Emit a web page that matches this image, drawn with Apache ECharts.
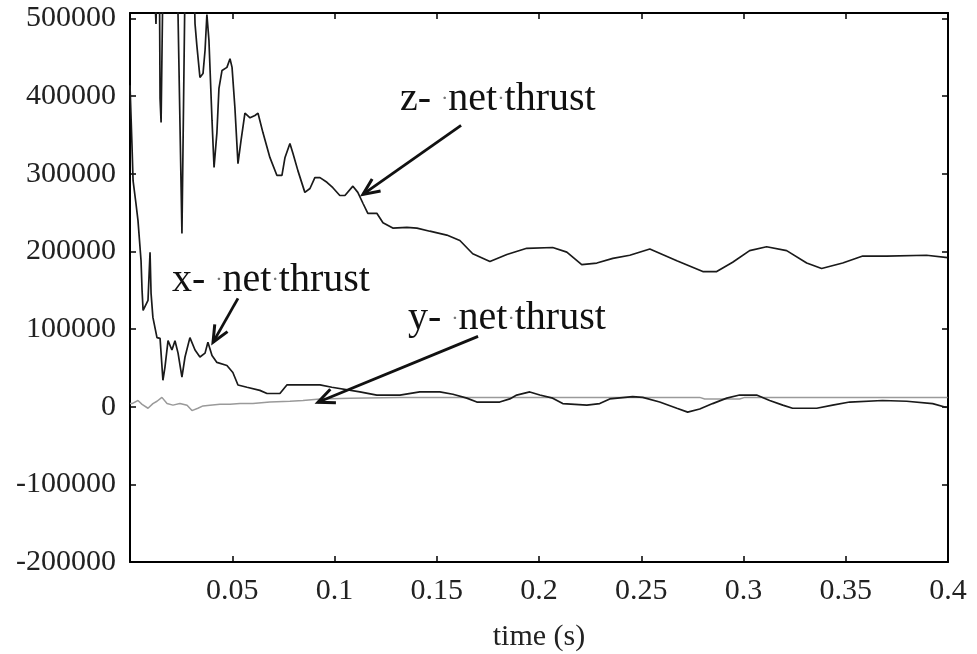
<!DOCTYPE html>
<html><head><meta charset="utf-8">
<script src="https://cdn.jsdelivr.net/npm/echarts@6/dist/echarts.min.js"></script>
<style>html,body{margin:0;padding:0;background:#fff}#c{width:977px;height:654px}</style>
</head><body><div id="c"></div>
<script>
// ---- data (time in s, thrust in N) ----
const zTime = [0,0.0098,0.0127,0.0142,0.0147,0.0152,0.0166,0.0225,0.0254,0.0274,0.0308,0.0318,0.0327,0.0342,0.0357,0.0367,0.0376,0.0386,0.0401,0.0411,0.0425,0.0435,0.0450,0.0474,0.0489,0.0499,0.0513,0.0528,0.0543,0.0562,0.0587,0.0611,0.0626,0.0650,0.0684,0.0718,0.0743,0.0758,0.0782,0.0797,0.0821,0.0855,0.0880,0.0904,0.0929,0.0963,0.0992,0.1026,0.1051,0.1090,0.1114,0.1139,0.1163,0.1207,0.1237,0.1285,0.1354,0.1403,0.1466,0.1549,0.1613,0.1676,0.1760,0.1843,0.1940,0.2067,0.2136,0.2209,0.2283,0.2361,0.2444,0.2542,0.2674,0.2801,0.2869,0.2947,0.3030,0.3113,0.3211,0.3309,0.3382,0.3485,0.3583,0.3700,0.3895,0.3998];
const zThrust = [900000,700000,493000,650000,397000,366000,650000,650000,223000,650000,600000,493000,465000,424000,429000,459000,505000,472000,369000,308000,353000,410000,433000,437000,448000,437000,385000,313000,343000,378000,372000,375000,378000,353000,321000,298000,298000,321000,339000,326000,304000,276000,281000,295000,295000,289000,282000,272000,272000,284000,276000,262000,249000,249000,237000,230000,231000,230000,226000,221000,214000,197000,187000,196000,204000,205000,199000,183000,185000,191000,195000,203000,188000,174000,174000,186000,201000,206000,201000,185000,178000,185000,194000,194000,195000,192000];

const xTime = [0,0.0010,0.0015,0.0029,0.0039,0.0054,0.0059,0.0064,0.0073,0.0088,0.0098,0.0103,0.0112,0.0132,0.0147,0.0161,0.0171,0.0186,0.0205,0.0220,0.0235,0.0254,0.0269,0.0293,0.0318,0.0342,0.0367,0.0381,0.0401,0.0425,0.0474,0.0503,0.0528,0.0572,0.0635,0.0670,0.0733,0.0767,0.0929,0.0987,0.1124,0.1207,0.1320,0.1417,0.1515,0.1579,0.1647,0.1696,0.1808,0.1857,0.1891,0.1955,0.2004,0.2067,0.2116,0.2234,0.2297,0.2346,0.2458,0.2507,0.2590,0.2674,0.2727,0.2786,0.2849,0.2918,0.2981,0.3064,0.3128,0.3192,0.3240,0.3358,0.3436,0.3519,0.3680,0.3798,0.3925,0.3993];
const xThrust = [414000,334000,291000,262000,240000,188000,150000,124000,122000,137000,199000,146000,115000,89000,88000,34000,51000,85000,73000,85000,69000,38000,64000,89000,73000,64000,69000,83000,66000,57000,53000,44000,28000,25000,21000,17000,17000,28000,28000,25000,19000,15000,15000,19000,19000,16000,11000,6000,6000,10000,15000,19000,15000,11000,4000,2000,4000,10000,13000,12000,6000,-2000,-7000,-3000,4000,11000,15000,15000,8000,2000,-2000,-2000,2000,6000,8000,7000,4000,-1000];

const yTime = [0,0.0010,0.0039,0.0059,0.0088,0.0112,0.0132,0.0156,0.0181,0.0210,0.0244,0.0279,0.0303,0.0332,0.0357,0.0391,0.0440,0.0489,0.0538,0.0601,0.0684,0.0782,0.0846,0.0929,0.1075,0.1320,0.1808,0.2297,0.2786,0.2810,0.2981,0.3006,0.3998];
const yThrust = [4000,4000,8000,3000,-2000,4000,7000,12000,4000,2000,4000,2000,-5000,-2000,1000,2000,3000,3000,4000,4000,6000,7000,8000,10000,11000,12000,12000,12000,12000,10000,10000,12000,12000];

const xTickLabels = ['0.05','0.1','0.15','0.2','0.25','0.3','0.35','0.4'];
const yTickLabels = ['-200000','-100000','0','100000','200000','300000','400000','500000'];

// annotation anchors in data space: [text t, text v, arrow tail t, tail v, head t, head v]
const labelNames = ['z-', 'x-', 'y-'];
const labelAnchors = [
  [0.1320, 396000, 0.1619, 362200, 0.1139, 273400],
  [0.0205, 163000, 0.0528, 139500, 0.0406, 82900],
  [0.1359, 113000, 0.1702, 90600, 0.0919, 5700]
];

const zip = (a, b) => a.map((t, i) => [t, b[i]]);
const serif = '"Liberation Serif", "Times New Roman", serif';

const chart = echarts.init(document.getElementById('c'));
const fmtX = v => { const s = xTickLabels.find(l => Math.abs(parseFloat(l) - v) < 1e-6); return s || ''; };
const fmtY = v => { const s = yTickLabels.find(l => Math.abs(parseFloat(l) - v) < 1e-3); return s || ''; };

const frameLine = { onZero: false, lineStyle: { color: '#000', width: 2 } };
const tick = { show: true, inside: true, length: 6, lineStyle: { color: '#000', width: 1.5 } };

chart.setOption({
  animation: false,
  backgroundColor: '#fff',
  grid: { left: 130, right: 29, top: 13, bottom: 92, show: false, containLabel: false, outerBoundsMode: 'none' },
  xAxis: [
    { type: 'value', min: 0, max: 0.4, interval: 0.05, position: 'bottom',
      name: 'time (s)', nameLocation: 'middle', nameGap: 60,
      nameTextStyle: { fontFamily: serif, fontSize: 30, color: '#222' },
      axisLine: frameLine, axisTick: tick,
      axisLabel: { formatter: fmtX, fontFamily: serif, fontSize: 30, color: '#222', margin: 14, showMinLabel: false },
      splitLine: { show: false } },
    { type: 'value', min: 0, max: 0.4, interval: 0.05, position: 'top',
      axisLine: frameLine, axisTick: tick,
      axisLabel: { show: false }, splitLine: { show: false } }
  ],
  yAxis: [
    { type: 'value', min: -200000, max: 507000, interval: 100000, position: 'left',
      axisLine: Object.assign({ show: true }, frameLine), axisTick: tick,
      axisLabel: { formatter: fmtY, fontFamily: serif, fontSize: 30, color: '#222', margin: 14 },
      splitLine: { show: false } },
    { type: 'value', min: -200000, max: 507000, interval: 100000, position: 'right',
      axisLine: Object.assign({ show: true }, frameLine), axisTick: tick,
      axisLabel: { show: false }, splitLine: { show: false } }
  ],
  series: [
    { name: 'y- net thrust', type: 'line', data: zip(yTime, yThrust), showSymbol: false, clip: true,
      lineStyle: { color: '#9a9a9a', width: 1.5 } },
    { name: 'x- net thrust', type: 'line', data: zip(xTime, xThrust), showSymbol: false, clip: true,
      lineStyle: { color: '#1a1a1a', width: 1.7 } },
    { name: 'z- net thrust', type: 'line', data: zip(zTime, zThrust), showSymbol: false, clip: true,
      lineStyle: { color: '#1a1a1a', width: 1.7 } }
  ]
});

// annotations: text + arrows placed through the chart's scales
const graphics = [];
labelAnchors.forEach((a, i) => {
  const tp = chart.convertToPixel({ gridIndex: 0 }, [a[0], a[1]]);
  const tail = chart.convertToPixel({ gridIndex: 0 }, [a[2], a[3]]);
  const head = chart.convertToPixel({ gridIndex: 0 }, [a[4], a[5]]);
  graphics.push({
    type: 'text', x: tp[0], y: tp[1], z: 10,
    style: {
      text: '{a|' + labelNames[i] + ' }{d|·}{a|net}{d|·}{a|thrust}',
      verticalAlign: 'middle', align: 'left',
      rich: {
        a: { fontFamily: serif, fontSize: 40, fill: '#111' },
        d: { fontFamily: serif, fontSize: 22, fill: '#777' }
      }
    }
  });
  const ang = Math.atan2(tail[1] - head[1], tail[0] - head[0]);
  const L = 18, sp = 0.42;
  const p1 = [head[0] + L * Math.cos(ang + sp), head[1] + L * Math.sin(ang + sp)];
  const p2 = [head[0] + L * Math.cos(ang - sp), head[1] + L * Math.sin(ang - sp)];
  graphics.push({ type: 'line', z: 10, shape: { x1: tail[0], y1: tail[1], x2: head[0], y2: head[1] },
    style: { stroke: '#111', lineWidth: 2.8 } });
  graphics.push({ type: 'polyline', z: 10, shape: { points: [p1, head, p2] },
    style: { stroke: '#111', lineWidth: 3, fill: null, lineJoin: 'miter' } });
});
chart.setOption({ graphic: graphics });
</script>
</body></html>
